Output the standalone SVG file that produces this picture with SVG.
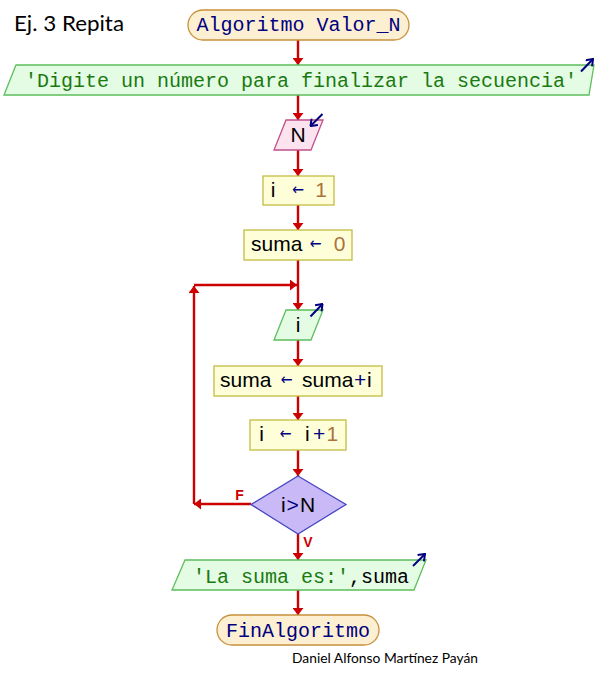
<svg xmlns="http://www.w3.org/2000/svg" width="596" height="680" viewBox="0 0 596 680">
<style>
.term{fill:#fdefd2;stroke:#c8903c;stroke-width:1.3}
.io{fill:#e4fbe4;stroke:#5cbf5c;stroke-width:1.3}
.inp{fill:#fde2ef;stroke:#c0508a;stroke-width:1.3}
.asg{fill:#fefed8;stroke:#c4bc40;stroke-width:1.3}
.dec{fill:#c9b9f7;stroke:#4646c4;stroke-width:1.3}
.mono{font-family:"Liberation Mono","DejaVu Sans Mono",monospace;font-size:20px}
.sans{font-family:"Liberation Sans",Arial,sans-serif;font-size:21px;fill:#000}
.mid{text-anchor:middle}
.arr{font-family:"DejaVu Sans","Liberation Sans",sans-serif;font-size:16px;fill:#000080;text-anchor:middle}
.kw{fill:#000080}
.str{fill:#1a7a10}
.num{fill:#a8743c}
.op{fill:#000080}
.conn{stroke:#cc0000;stroke-width:2.4;fill:none}
.lbl{font-family:"Liberation Sans",Arial,sans-serif;font-size:14px;font-weight:bold;fill:#cc0000}
.ico{stroke:#000080;stroke-width:2;fill:none}
</style>
<defs>
<marker id="ah" viewBox="0 0 7 11" refX="7" refY="5.5" markerWidth="7" markerHeight="11" markerUnits="userSpaceOnUse" orient="auto">
<path d="M0,0 L7,5.5 L0,11 z" fill="#cc0000"/>
</marker>
<marker id="io" viewBox="0 0 10 10" refX="9" refY="5" markerWidth="10" markerHeight="10" markerUnits="userSpaceOnUse" orient="auto">
<path d="M3,0.5 L9,5 L3,9.5" stroke="#000080" stroke-width="2" fill="none"/>
</marker>
</defs>
<text id="title" x="14" y="31" font-family="Lato,'Open Sans',sans-serif" font-size="22" textLength="110" lengthAdjust="spacingAndGlyphs" fill="#000">Ej. 3 Repita</text>
<g id="connectors">
<path class="conn" d="M298,40 V65" marker-end="url(#ah)"/>
<path class="conn" d="M298,95 V120" marker-end="url(#ah)"/>
<path class="conn" d="M298,150 V176" marker-end="url(#ah)"/>
<path class="conn" d="M298,205 V230" marker-end="url(#ah)"/>
<path class="conn" d="M298,260 V310" marker-end="url(#ah)"/>
<path class="conn" d="M298,340 V366" marker-end="url(#ah)"/>
<path class="conn" d="M298,396 V420" marker-end="url(#ah)"/>
<path class="conn" d="M298,450 V476" marker-end="url(#ah)"/>
<path class="conn" d="M298,534 V560" marker-end="url(#ah)"/>
<path class="conn" d="M298,590 V615" marker-end="url(#ah)"/>
<path class="conn" d="M251,504 H194" marker-end="url(#ah)"/>
<path class="conn" d="M194,504 V286" marker-end="url(#ah)"/>
<path class="conn" d="M194,285 H297" marker-end="url(#ah)"/>
<text class="lbl" x="239.5" y="500" text-anchor="middle">F</text>
<text class="lbl" x="308" y="547" text-anchor="middle">V</text>
</g>
<g id="start">
<rect class="term" x="188" y="10" width="221" height="30" rx="15"/>
<text class="mono kw" x="298.5" y="31" text-anchor="middle">Algoritmo Valor_N</text>
</g>
<g id="write1">
<polygon class="io" points="16,65 594,65 589,95 4,95"/>
<text class="mono str" x="301" y="87" text-anchor="middle">'Digite un número para finalizar la secuencia'</text>
<path class="ico" d="M581,71.5 L593,59" marker-end="url(#io)"/>
</g>
<g id="readN">
<polygon class="inp" points="286,120 323,120 311,150 274,150"/>
<text class="sans mid" x="298" y="142">N</text>
<path class="ico" d="M322.5,114 L310.5,126" marker-end="url(#io)"/>
</g>
<g id="asg1">
<rect class="asg" x="263" y="176" width="71" height="29"/>
<text class="sans mid" x="273" y="197">i</text>
<text class="arr" x="298" y="195" textLength="12" lengthAdjust="spacingAndGlyphs">←</text>
<text class="sans num mid" x="321" y="197">1</text>
</g>
<g id="asg2">
<rect class="asg" x="244" y="230" width="108" height="30"/>
<text class="sans" x="251" y="251">suma</text>
<text class="arr" x="315.5" y="249" textLength="12" lengthAdjust="spacingAndGlyphs">←</text>
<text class="sans num mid" x="339.5" y="251">0</text>
</g>
<g id="readI">
<polygon class="io" points="286,310 323,310 311,340 274,340"/>
<text class="sans mid" x="298" y="332">i</text>
<path class="ico" d="M310.5,316.5 L322.5,304" marker-end="url(#io)"/>
</g>
<g id="asg3">
<rect class="asg" x="214" y="366" width="168" height="30"/>
<text class="sans" x="220" y="387">suma</text>
<text class="arr" x="286.5" y="385" textLength="12" lengthAdjust="spacingAndGlyphs">←</text>
<text class="sans" x="302" y="387">suma</text>
<text class="sans op" x="354" y="387">+</text>
<text class="sans" x="367" y="387">i</text>
</g>
<g id="asg4">
<rect class="asg" x="250" y="420" width="96" height="30"/>
<text class="sans mid" x="261.5" y="441">i</text>
<text class="arr" x="285.5" y="439" textLength="12" lengthAdjust="spacingAndGlyphs">←</text>
<text class="sans" x="305" y="441">i</text>
<text class="sans op" x="313" y="441">+</text>
<text class="sans num" x="326.5" y="441">1</text>
</g>
<g id="cond">
<polygon class="dec" points="298,476 346,504.5 298,534 251,504.5"/>
<text class="sans" x="281" y="512">i</text>
<text class="sans op" x="286.5" y="512">&gt;</text>
<text class="sans" x="300" y="512">N</text>
</g>
<g id="write2">
<polygon class="io" points="185,560 426,560 414,590 172,590"/>
<text class="mono str" x="193" y="583">'La suma es:'</text>
<text class="mono" x="349" y="583">,suma</text>
<path class="ico" d="M413,566 L425,554" marker-end="url(#io)"/>
</g>
<g id="end">
<rect class="term" x="217" y="615" width="162" height="30" rx="15"/>
<text class="mono kw" x="298" y="637" text-anchor="middle">FinAlgoritmo</text>
</g>
<text id="author" x="292" y="663" font-family="Lato,'Open Sans',sans-serif" font-size="14" textLength="186" lengthAdjust="spacingAndGlyphs" fill="#000">Daniel Alfonso Martínez Payán</text>
</svg>
